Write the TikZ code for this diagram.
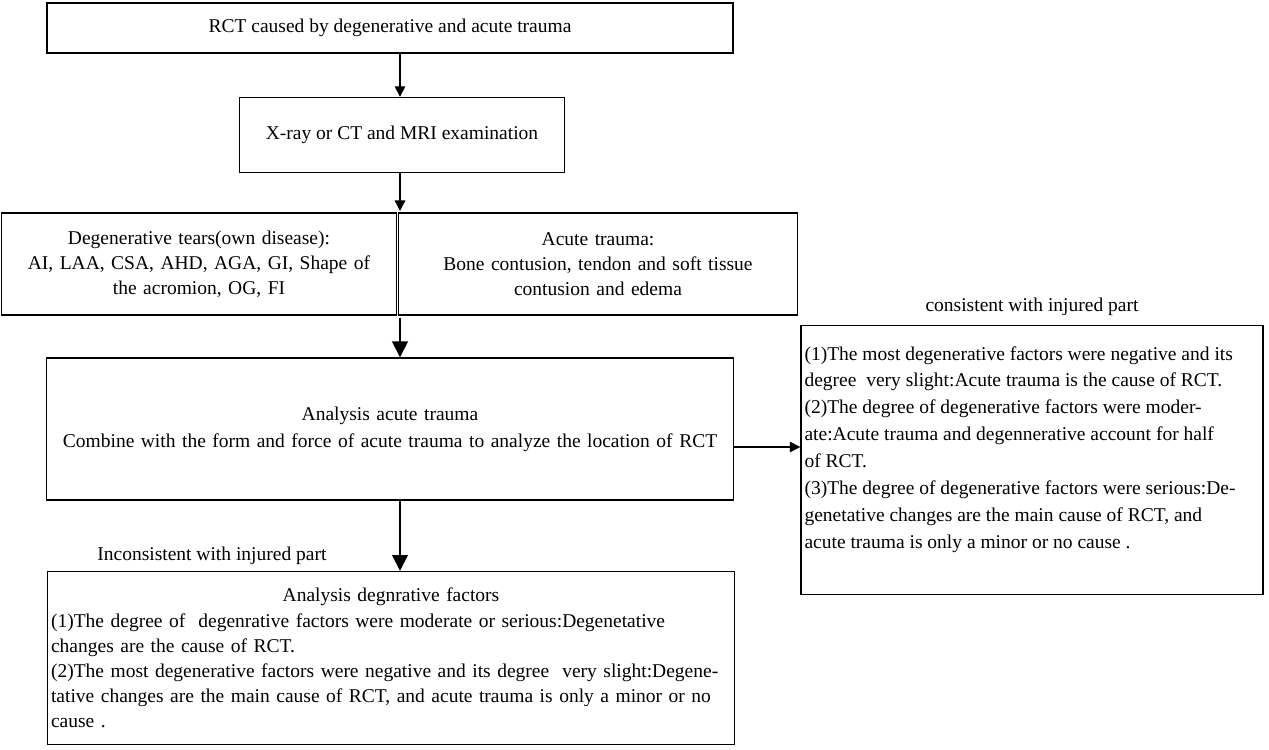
\documentclass[tikz,border=0pt]{standalone}
\usepackage{fontspec}
\setmainfont{Liberation Serif}
\usetikzlibrary{positioning,arrows.meta}

\begin{document}
\begin{tikzpicture}[x=0.02cm,y=-0.02cm,font=\fontsize{11.1}{14.3}\selectfont]
    \tikzstyle{box}=[draw,thick,inner sep=2pt,align=center]
    \tikzstyle{flow}=[-{Triangle[length=6pt,width=6pt]},thick]
    \tikzstyle{bigflow}=[-{Triangle[length=9pt,width=9pt]},thick]
    \tikzstyle{annot}=[inner sep=0pt]
    \useasboundingbox (0,0) rectangle (1269,750);

    % boxes
    \node[box,minimum width=13.72cm,minimum height=1cm] (rct) at (390,28) {RCT caused by degenerative and acute trauma};
    \node[box,minimum width=6.5cm,minimum height=1.5cm] (exam) at (402,135) {X-ray or CT and MRI examination};
    \node[box,text width=7.75cm,minimum height=2.04cm] (deg) at (199,264) {Degenerative tears(own disease):\\AI, LAA, CSA, AHD, AGA, GI, Shape of\\the acromion, OG, FI};
    \node[box,text width=7.85cm,minimum height=2.04cm] (acu) at (598,264) {Acute trauma:\\Bone contusion, tendon and soft tissue\\contusion and edema};
    \node[box,text width=13.6cm,minimum height=2.84cm,font=\fontsize{11.1}{15.3}\selectfont] (ana) at (390,429) {Analysis acute trauma\\Combine with the form and force of acute trauma to analyze the location of RCT};
    \node[box,align=left,font=\fontsize{11.1}{15.3}\selectfont] (cons) at (1032,460) {\parbox[c][5.25cm][t]{9.1cm}{\vspace{0.35cm}(1)The most degenerative factors were negative and its\\degree\ \ very slight:Acute trauma is the cause of RCT.\\(2)The degree of degenerative factors were moder-\\ate:Acute trauma and degennerative account for half\\of RCT.\\(3)The degree of degenerative factors were serious:De-\\genetative changes are the main cause of RCT, and\\acute trauma is only a minor or no cause .}};
    \node[box,text width=13.6cm,minimum height=3.46cm,align=left] (degf) at (391,658) {\hfill Analysis degnrative factors\hfill\null\\(1)The degree of\ \ degenrative factors were moderate or serious:Degenetative\\changes are the cause of RCT.\\(2)The most degenerative factors were negative and its degree\ \ very slight:Degene-\\tative changes are the main cause of RCT, and acute trauma is only a minor or no\\cause .};

    % labels
    \node[annot,above=5pt of cons] {consistent with injured part};
    \node[annot,anchor=west] at (97,556) {Inconsistent with injured part};

    % arrows
    \coordinate (split) at (400,318);
    \draw[flow] (400,53) -- (exam.north -| 400,0);
    \draw[flow] (exam.south -| 400,0) -- (400,211);
    \draw[bigflow] (split) -- (ana.north -| split);
    \draw[bigflow] (ana.south -| split) -- (degf.north -| split);
    \draw[flow] (ana.east |- 0,447) -- (cons.west |- 0,447);
\end{tikzpicture}
\end{document}
